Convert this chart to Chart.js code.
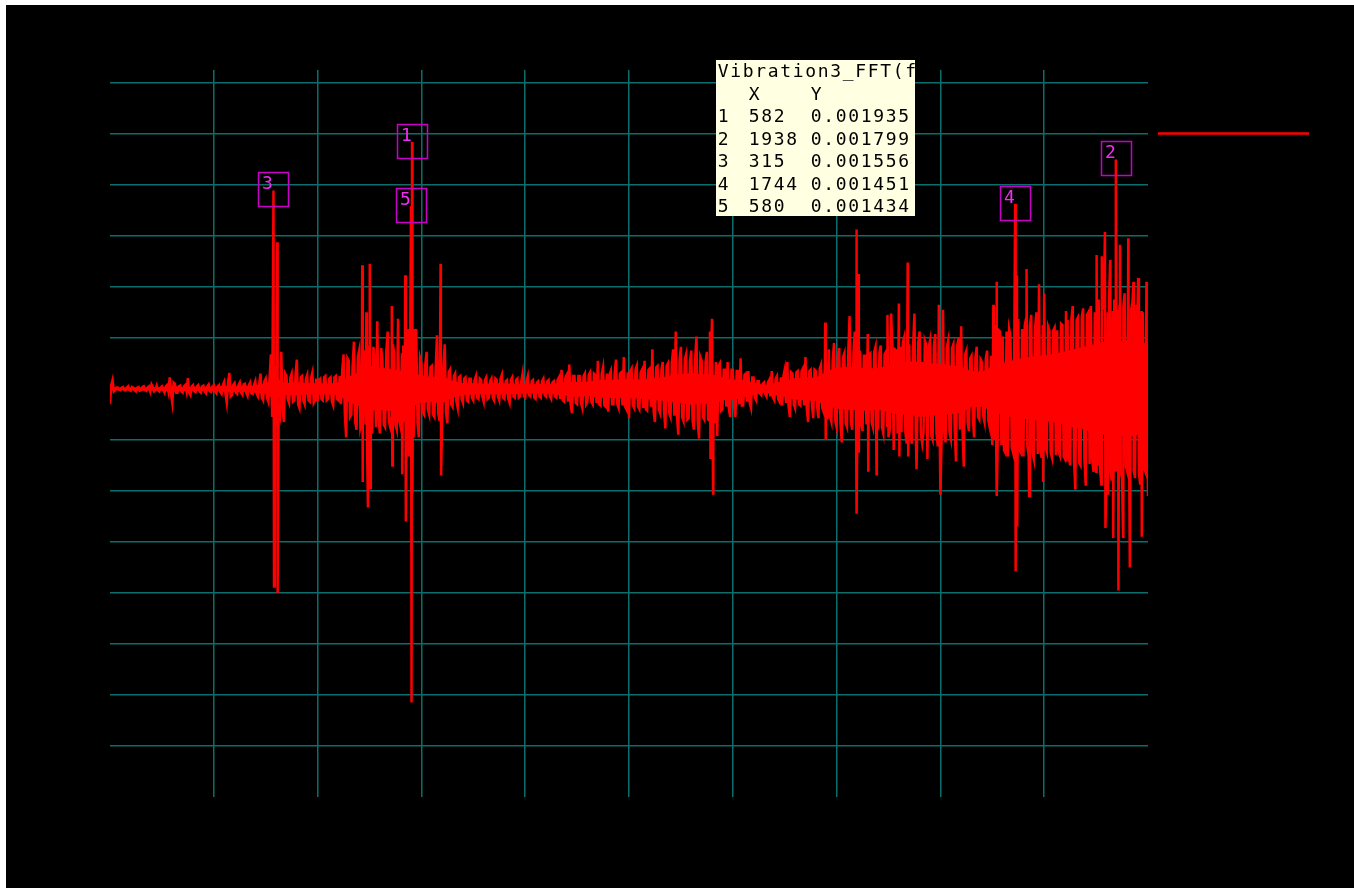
<!DOCTYPE html>
<html><head><meta charset="utf-8">
<script src="https://cdn.jsdelivr.net/npm/chart.js@4.4.1/dist/chart.umd.min.js"></script>
<style>html,body{margin:0;padding:0;background:#fff;overflow:hidden}canvas{display:block}</style>
</head><body>
<canvas id="c" width="1354" height="888"></canvas>
<script>
// ---- data (amplitudes in units of 1e-4) ----
const binHz = 5; // spectrum read every 5 Hz from 0 to 2000 Hz
const ampE4 = [
  -1.2, 0.7, -0.1, 0.1, -0.1, 0.15, -0.1, 0.2, -0.15, 0.1, -0.2, 0.15, -0.1, 0.2, -0.15, 0.2, 0.35, -0.2, 0.25, -0.2,
  0.2, -0.3, 0.3, 0.9, -1.1, 0.4, -0.3, 0.25, -0.3, 0.3, 0.85, -0.5, 0.3, -0.25, 0.3, -0.3, 0.25, -0.35, 0.35, -0.25,
  0.3, -0.35, 0.3, -0.4, 0.55, -1.1, 1.25, -0.5, 0.45, -0.4, 0.5, -0.45, 0.4, -0.55, 0.5, -0.4, 0.6, -0.6, 1.2, -0.9,
  0.8, -1.0, 2.7, 15.56, -2.9, -1.5, 2.9, -2.6, 1.0, -1.1, 1.2, -0.9, 2.3, -1.5, 1.0, -1.2, 1.1, -1.0, 1.3, -0.9,
  -1.0, 0.8, -0.9, 1.0, -0.8, 0.9, -1.3, 1.0, -0.9, -1.2, 2.7, -3.8, 2.2, -2.0, 3.7, -3.2, 3.0, -2.5, 2.8, -3.5,
  3.0, -3.5, 2.4, 5.3, -3.5, 2.2, -3.0, 4.5, -3.0, 3.5, -2.8, 5.5, -3.0, 3.4, -3.5, 3.0, 14.34, -3.8, 4.7, -3.8,
  2.0, -2.0, 2.9, -2.0, 1.8, -2.2, 4.2, -2.5, -2.0, 3.5, -2.7, 1.5, -1.4, 1.2, -1.5, 1.0, -1.1, 0.9, -1.0, 0.8,
  -0.9, 1.0, -0.8, 0.7, -1.0, 0.9, -0.7, 0.8, -0.9, 0.7, -0.9, 1.1, -0.8, 0.7, -1.1, 0.9, -0.7, 0.8, -0.6, 1.2,
  -0.7, 1.0, -0.6, 0.7, -0.8, 0.6, -0.7, 0.8, -0.6, 0.7, -0.8, 0.6, -0.7, 0.9, 1.5, -1.0, 1.1, 1.9, -1.9, 1.0,
  -1.2, 1.0, -1.5, 1.2, -1.0, 1.3, -1.2, 1.1, 2.2, -1.3, 1.7, -1.4, -1.8, 1.4, -1.2, 2.3, -1.5, 1.3, 2.5, -1.6,
  -2.3, 1.6, -1.5, 1.8, -1.6, 1.5, 2.2, -1.7, 1.6, 3.1, -2.6, 1.8, -1.9, 2.1, -3.1, 2.0, -2.2, 3.1, 4.5, -3.6,
  3.3, -2.5, 2.7, -2.3, 3.0, -3.2, 4.1, -3.9, 2.2, -2.4, 2.9, -2.5, 5.5, -2.6, -3.7, 2.0, -1.6, 1.5, 2.1, -2.2,
  1.5, -2.2, 1.4, 2.4, -1.3, 1.2, 1.4, -1.5, 0.9, -0.9, 0.6, -0.5, 0.5, -0.6, 0.7, 1.4, -0.9, 1.0, -1.0, -1.3,
  1.5, 2.1, -2.2, 1.2, -1.5, 1.4, -1.3, 1.6, 2.5, -2.6, 1.5, -2.3, 1.4, -2.3, 1.9, -1.8, 2.0, 3.1, -2.6, 3.6,
  -3.0, 3.2, -4.2, 2.8, -3.0, 5.7, -3.2, 4.5, -3.0, 3.0, -3.3, 2.6, -2.5, 2.8, -3.0, 3.3, -2.8, 3.4, -3.5, 2.9,
  -3.8, 5.9, -4.8, 3.0, 6.7, -3.4, 4.0, -4.3, 3.5, -4.3, 5.9, -4.0, 4.5, -4.3, 3.8, -5.5, 3.8, -4.0, 4.3, -4.5,
  -8.3, 6.2, -4.2, 3.8, -3.9, 3.5, -5.7, 4.0, 4.9, -6.1, 3.0, -3.3, 2.6, -3.8, 3.3, -2.4, 2.1, -2.6, 3.0, -3.0,
  -4.4, 5.0, -5.5, 4.5, 4.1, -5.0, -5.3, 4.2, -5.0, -14.3, 5.5, -5.0, -5.3, 5.5, -5.2, 5.8, -5.5, 6.0, 8.2, -5.4,
  7.5, -5.0, 4.6, -5.4, 4.8, 4.6, -5.2, 5.0, -5.5, 5.4, -6.0, 6.5, -7.9, 5.6, -6.0, 6.3, -7.6, 6.0, 6.5, -6.5,
  -6.5, 7.0, -7.5, 6.5, -7.0, 6.8, -7.2, 7.0, -6.0, 6.5, -7.0, 7.5, -6.5, -14.0, 6.8, -7.0, 6.5, -7.5, 6.0, -6.5,
  -8.4
];
// readings half-way between the 5 Hz bins (2.5, 7.5, ... 1997.5 Hz)
const ampMidE4 = [
  0.3, -0.2, 0.1, -0.05, 0.1, -0.1, 0.1, -0.1, 0.15, -0.1, 0.1, -0.15, 0.15, -0.1, 0.1, -0.2, 0.15, -0.1, -0.1, 0.1,
  -0.1, 0.2, -0.2, -0.4, 0.5, -0.3, 0.2, -0.2, 0.2, -0.2, -0.3, 0.2, -0.2, 0.2, -0.2, 0.2, -0.2, 0.2, -0.2, 0.2,
  -0.2, 0.2, -0.25, 0.3, -0.4, 0.5, -0.6, 0.3, -0.3, 0.3, -0.3, 0.35, -0.3, 0.3, -0.35, 0.3, -0.4, 0.4, -0.7, 0.6,
  -0.7, 0.9, -2.2, 1.8, 2.0, -2.0, -1.5, 1.2, -0.8, 0.9, -1.0, 1.1, -1.2, 0.9, -0.9, 0.8, -0.9, 0.9, -1.1, 0.8,
  0.7, -0.8, 0.9, -0.9, 0.8, -1.0, 0.9, -0.8, 1.0, 1.5, -2.0, 2.4, -2.2, 1.8, -2.6, 2.5, -3.0, 2.6, -2.8, 3.2,
  -2.5, 3.3, -3.0, -2.4, 3.2, -2.8, 3.0, -2.6, -2.2, 2.8, -3.2, -2.5, 2.8, -2.6, 2.9, -2.5, 5.0, 2.8, -2.6, 2.4,
  -1.8, 1.9, -1.6, 1.7, -2.0, 1.6, -1.9, 1.5, 1.8, -1.9, 1.3, -1.2, 1.0, -1.0, 0.9, -0.8, 0.8, -0.9, 0.8, -0.7,
  0.7, -0.7, 0.8, -0.6, 0.7, -0.8, 0.6, -0.7, 0.8, -0.6, 0.8, -0.7, 0.6, -0.8, 0.7, -0.6, 0.7, -0.7, 0.6, -0.6,
  0.6, -0.5, 0.6, -0.7, 0.5, -0.6, 0.6, -0.5, 0.6, -0.6, 0.5, -0.6, 0.7, -0.8, -0.9, 0.9, -1.0, -1.2, 1.0, -1.1,
  1.0, -1.1, 1.0, -1.2, 1.1, -1.0, 1.2, -1.1, -1.2, 1.2, -1.3, 1.2, 1.1, -1.2, 1.3, -1.2, 1.2, -1.3, -1.4, 1.3,
  1.4, -1.3, 1.5, -1.4, 1.3, -1.5, -1.6, 1.5, -1.4, -1.8, 1.7, -1.6, 1.5, -1.7, 1.8, -1.9, 2.0, -2.1, -2.2, 2.3,
  -2.2, 2.3, -2.4, 2.2, -2.5, 2.4, -2.6, 2.5, -2.2, 2.1, -2.4, 2.2, -2.6, 2.1, 1.8, -1.7, 1.5, -1.4, -1.6, 1.5,
  -1.3, 1.4, -1.2, -1.3, 1.1, -1.0, -1.1, 0.9, -0.7, 0.6, -0.4, 0.4, -0.4, 0.5, -0.6, -0.7, 0.8, -0.8, 0.9, 1.0,
  -1.1, -1.4, 1.3, -1.2, 1.3, -1.2, 1.4, -1.3, -1.5, 1.4, -1.3, 1.5, -1.4, 1.6, -1.5, 2.2, -2.4, -2.2, 2.3, -2.5,
  2.6, -2.8, 2.5, -2.7, 2.9, -2.6, 2.8, -2.9, 2.0, -2.7, 2.6, -2.8, 2.7, -2.6, 2.9, -2.5, 2.8, -3.0, 2.7, -2.9,
  -3.2, 3.4, 3.1, -3.5, 3.3, 3.6, -3.4, 2.0, -3.6, 3.5, -3.3, 3.7, -3.6, -3.4, 3.5, 3.3, -3.7, 3.4, -3.5, 1.0,
  -3.4, -3.5, 3.3, -3.4, 3.2, -3.1, 3.4, -3.2, -3.0, 2.7, -2.6, 2.4, -2.3, 2.5, -2.2, 2.3, -2.1, 2.4, -2.5, 2.6,
  1.0, -4.2, 4.6, -4.4, -4.8, 4.5, 4.7, -4.6, 4.3, 0.0, -4.8, 4.7, 5.0, -4.5, 4.9, -5.0, 4.8, -5.1, -4.8, 5.0,
  -4.7, 4.9, -5.0, 4.6, -5.2, -4.9, 5.1, -5.3, 0.0, -5.4, 5.5, -5.6, 5.4, -5.8, 5.6, -5.5, 5.8, -5.9, -5.6, 6.0,
  -6.0, -6.2, 6.3, 0.5, 6.0, -6.2, 6.1, -6.4, 6.2, -6.5, 6.4, -6.1, 3.0, 6.2, -6.4, 6.5, -6.6, 6.1, -6.2, 2.0
];
// narrow spikes between the bins (frequency in Hz, amplitude in 1e-4)
const spikeHz = [316, 322, 323.5, 486, 487, 494, 497, 500.5, 501.5, 543, 544, 563, 569, 570, 575, 576, 581, 583, 584,
  637, 638, 1156, 1157, 1160, 1162, 1378, 1379, 1438, 1439, 1442, 1443, 1460, 1461, 1477,
  1498, 1521, 1537, 1538, 1554, 1597, 1600, 1702, 1703, 1708, 1709, 1745, 1747, 1748, 1760, 1766, 1771, 1790, 1798,
  1842, 1843, 1901, 1911, 1917, 1918, 1923, 1927, 1933, 1943, 1946, 1952, 1962, 1965, 1972, 1981, 1988, 1997, 2000];
const spikeE4 = [-15.5, 11.5, -16.0, 9.7, -7.3, 6.0, -9.3, 9.8, -7.8, 6.5, -6.0, -6.7, 8.9, -10.4, 4.7, -5.3, -24.6, -8.2, 4.7,
  9.8, -6.8, 4.5, -5.4, 5.5, -8.2, 5.2, -4.0, 12.5, -9.8, 9.0, -5.0, 4.3, -6.5, -6.7,
  5.8, -5.3, 9.9, -5.3, -6.3, 6.6, -8.3, 6.6, -4.0, 8.4, -8.4, -14.3, 8.9, -10.8, -5.3, 9.4, -8.4, 8.2, -7.3,
  6.1, -5.7, 10.5, 10.4, 12.3, -10.9, -8.3, 10.1, -11.7, -15.8, 11.3, -11.6, 11.8, -14.0, 8.4, 8.7, -11.6, 8.4, -8.4];
// solid core of the dense trace, upper / lower edge read every 20 Hz (1e-4)
const coreStepHz = 20;
const coreUpE4 = [0.1, 0.07, 0.08, 0.08, 0.1, 0.1, 0.2, 0.1, 0.13, 0.13,
  0.13, 0.2, 0.16, 0.2, 0.23, 0.4, 0.8, 0.4, 0.5, 0.4,
  0.4, 0.36, 0.45, 0.9, 1.3, 1.8, 1.6, 1.55, 1.4, 1.3,
  1.0, 0.9, 1.0, 0.6, 0.4, 0.4, 0.36, 0.4, 0.4, 0.33,
  0.33, 0.33, 0.33, 0.4, 0.5, 0.5, 0.5, 0.65, 0.65, 0.7,
  0.7, 0.7, 0.8, 0.85, 1.0, 1.1, 1.2, 1.1, 1.1, 0.85,
  0.7, 0.65, 0.45, 0.26, 0.4, 0.6, 0.8, 0.85, 0.85, 1.3,
  1.6, 1.7, 1.6, 1.55, 1.6, 1.8, 1.95, 2.1, 2.1, 1.95,
  1.95, 1.8, 1.7, 1.35, 1.3, 1.7, 2.0, 2.2, 2.4, 2.5,
  2.6, 2.7, 2.9, 3.1, 3.3, 3.5, 3.7, 3.6, 3.8, 3.7, 3.5];
const coreLowE4 = [-0.1, -0.07, -0.08, -0.1, -0.1, -0.1, -0.2, -0.13, -0.13, -0.13,
  -0.13, -0.2, -0.2, -0.2, -0.26, -0.4, -0.8, -0.45, -0.5, -0.4,
  -0.4, -0.4, -0.45, -1.0, -1.3, -1.7, -1.6, -1.7, -1.5, -1.4,
  -1.05, -1.0, -1.1, -0.65, -0.45, -0.4, -0.4, -0.4, -0.4, -0.36,
  -0.33, -0.33, -0.33, -0.4, -0.5, -0.6, -0.5, -0.65, -0.65, -0.7,
  -0.7, -0.7, -0.8, -0.85, -1.0, -1.1, -1.2, -1.1, -1.2, -0.85,
  -0.8, -0.65, -0.45, -0.26, -0.4, -0.6, -0.8, -0.85, -0.9, -1.3,
  -1.5, -1.6, -1.6, -1.7, -1.6, -1.8, -1.95, -2.0, -2.15, -2.1,
  -2.0, -1.95, -1.8, -1.4, -1.35, -1.7, -2.0, -2.2, -2.3, -2.4,
  -2.5, -2.6, -2.8, -3.0, -3.2, -3.4, -3.6, -3.5, -3.7, -3.6, -3.4];
// labelled peaks (table order)
const peakHz = [582, 1938, 315, 1744, 580];
const peakY = [0.001935, 0.001799, 0.001556, 0.001451, 0.001434];
const tableTitle = 'Vibration3_FFT(f)';
const xTickValues = [200, 400, 600, 800, 1000, 1200, 1400, 1600, 1800];
const yTickValues = [-0.0028, -0.0024, -0.002, -0.0016, -0.0012, -0.0008, -0.0004, 0, 0.0004, 0.0008, 0.0012, 0.0016, 0.002, 0.0024];

// ---- build points ----
const points = ampE4.map((v, i) => ({x: i * binHz, y: v * 1e-4}));
ampMidE4.forEach((v, i) => points.push({x: i * binHz + binHz / 2, y: v * 1e-4}));
function put(f, y) {
  const p = points.find(q => q.x === f);
  if (p) p.y = y; else points.push({x: f, y: y});
}
spikeHz.forEach((f, k) => put(f, spikeE4[k] * 1e-4));
peakHz.forEach((f, k) => put(f, peakY[k]));
points.sort((a, b) => a.x - b.x);
const coreUp = coreUpE4.map((v, i) => ({x: i * coreStepHz, y: v * 1e-4}));
const coreLow = coreLowE4.map((v, i) => ({x: i * coreStepHz, y: v * 1e-4}));

const gridColor = '#0a6e6e';
const red = '#ff0000';

const framePlugin = {
  id: 'frame',
  beforeDraw(chart) {
    const c = chart.ctx;
    c.save();
    c.fillStyle = '#ffffff';
    c.fillRect(0, 0, chart.width, chart.height);
    c.fillStyle = '#000000';
    c.fillRect(6, 5, chart.width - 6, chart.height - 5);
    c.restore();
  },
  afterDraw(chart) {
    const c = chart.ctx;
    const xs = chart.scales.x, ys = chart.scales.y;
    c.save();
    // peak markers
    c.font = '18px "DejaVu Sans Mono"';
    c.textAlign = 'center';
    c.textBaseline = 'alphabetic';
    peakHz.forEach((f, k) => {
      const px = xs.getPixelForValue(f), py = ys.getPixelForValue(peakY[k]);
      const l = Math.round(px - 15), t = Math.round(py - 18);
      c.strokeStyle = '#c800c8';
      c.lineWidth = 1.5;
      c.strokeRect(l + 0.5, t + 0.5, 30, 34);
      c.fillStyle = '#f030f0';
      c.fillText(String(k + 1), l + 9.5, t + 16.5);
    });
    // legend sample
    c.strokeStyle = red;
    c.lineWidth = 2.5;
    c.beginPath();
    c.moveTo(1158, 133.5);
    c.lineTo(1309, 133.5);
    c.stroke();
    // peak table
    const bx = 716, by = 60, bw = 199, bh = 156;
    c.fillStyle = '#ffffe1';
    c.fillRect(bx, by, bw, bh);
    c.beginPath();
    c.rect(bx, by, bw, bh);
    c.clip();
    c.fillStyle = '#000000';
    c.font = '18px "DejaVu Sans Mono"';
    const cells = (s, x0, yb) => { for (let i = 0; i < s.length; i++) c.fillText(s[i], x0 + 12.5 * i + 6.25, yb); };
    cells(tableTitle, 717, 77);
    cells('X', 748, 99.5);
    cells('Y', 810, 99.5);
    peakHz.forEach((f, k) => {
      const yb = 122 + 22.5 * k;
      cells(String(k + 1), 717, yb);
      cells(String(f), 748, yb);
      cells(peakY[k].toFixed(6), 810, yb);
    });
    c.restore();
  }
};

new Chart(document.getElementById('c'), {
  type: 'line',
  data: {
    datasets: [{
      label: 'Vibration3_FFT',
      data: points,
      borderColor: red,
      backgroundColor: red,
      borderWidth: 2.5,
      pointRadius: 0,
      tension: 0,
      fill: false
    }, {
      label: 'core upper',
      data: coreUp,
      borderColor: red,
      backgroundColor: red,
      borderWidth: 1,
      pointRadius: 0,
      tension: 0,
      fill: '+1'
    }, {
      label: 'core lower',
      data: coreLow,
      borderColor: red,
      backgroundColor: red,
      borderWidth: 1,
      pointRadius: 0,
      tension: 0,
      fill: false
    }]
  },
  options: {
    responsive: false,
    animation: false,
    events: [],
    layout: {padding: {left: 110, right: 206, top: 70, bottom: 91}},
    plugins: {legend: {display: false}, tooltip: {enabled: false}, title: {display: false}},
    scales: {
      x: {
        type: 'linear', min: 0, max: 2000,
        afterBuildTicks: s => { s.ticks = xTickValues.map(v => ({value: v})); },
        grid: {color: gridColor, lineWidth: 1.5, drawTicks: false},
        border: {display: false},
        ticks: {display: false}
      },
      y: {
        type: 'linear', min: -0.0032, max: 0.0025,
        afterBuildTicks: s => { s.ticks = yTickValues.map(v => ({value: v})); },
        grid: {color: gridColor, lineWidth: 1.5, drawTicks: false},
        border: {display: false},
        ticks: {display: false}
      }
    }
  },
  plugins: [framePlugin]
});
</script>
</body></html>
